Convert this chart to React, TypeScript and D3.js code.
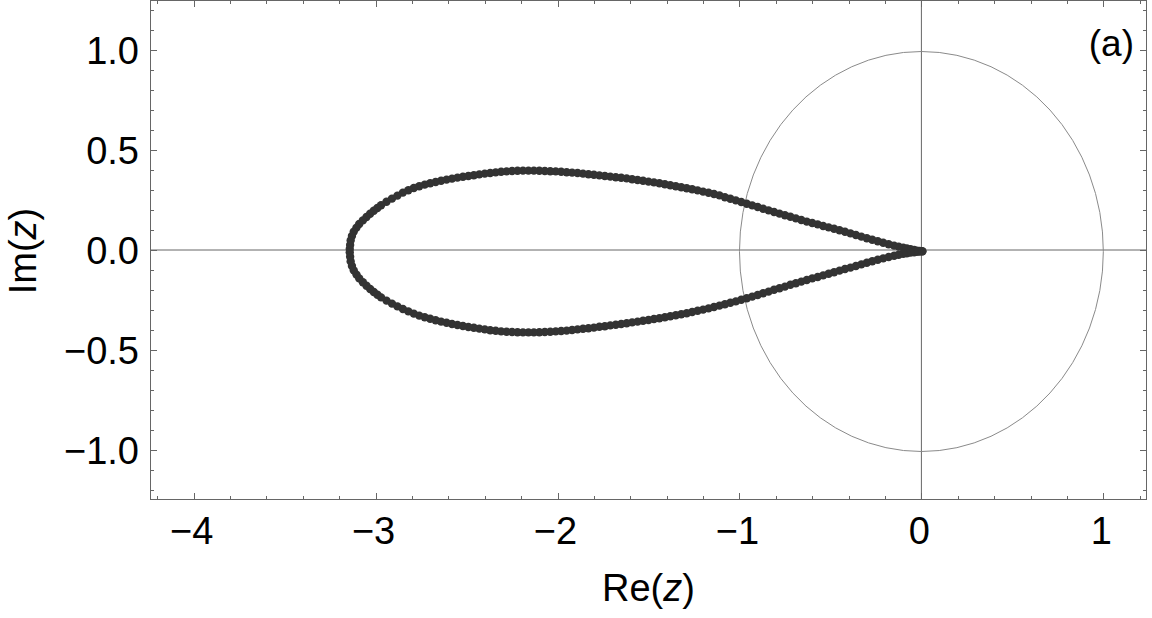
import React, { useEffect } from "react";
import * as d3 from "d3";

const W = 1152;
const H = 618;

const xDomain: [number, number] = [-4.24, 1.24];
const yDomain: [number, number] = [-1.25, 1.25];

const xMajorTicks = [-4, -3, -2, -1, 0, 1];
const xTickLabels = ["\u22124", "\u22123", "\u22122", "\u22121", "0", "1"];
const yMajorTicks = [-1.0, -0.5, 0.0, 0.5, 1.0];
const yTickLabels = ["\u22121.0", "\u22120.5", "0.0", "0.5", "1.0"];

// upper branch of the boundary (Re, Im)
const upperRe = [
  0.005, -0.01, -0.025, -0.04, -0.06, -0.08, -0.1, -0.125, -0.15, -0.18, -0.21, -0.24, -0.27, -0.3, -0.33, -0.36,
  -0.39, -0.42, -0.45, -0.48, -0.51, -0.54, -0.57, -0.6, -0.63, -0.66, -0.69, -0.72, -0.75, -0.78, -0.81, -0.84,
  -0.87, -0.9, -0.93, -0.96, -0.99, -1.02, -1.05, -1.08, -1.11, -1.14, -1.17, -1.2, -1.23, -1.26, -1.29, -1.32,
  -1.35, -1.38, -1.41, -1.44, -1.47, -1.5, -1.53, -1.56, -1.59, -1.62, -1.65, -1.68, -1.71, -1.74, -1.77, -1.8,
  -1.83, -1.86, -1.89, -1.92, -1.95, -1.98, -2.01, -2.04, -2.07, -2.1, -2.13, -2.16, -2.19, -2.22, -2.25, -2.28,
  -2.31, -2.34, -2.37, -2.4, -2.43, -2.46, -2.49, -2.52, -2.55, -2.58, -2.61, -2.64, -2.67, -2.7, -2.73, -2.76,
  -2.79, -2.82, -2.85, -2.88, -2.91, -2.94, -2.97, -2.99, -3.01, -3.03, -3.05, -3.07, -3.09, -3.105, -3.12, -3.13,
  -3.137, -3.14, -3.142,
];
const upperIm = [
  -0.006, -0.005, -0.003, 0.0, 0.004, 0.008, 0.012, 0.017, 0.022, 0.029, 0.036, 0.044, 0.051, 0.059, 0.067, 0.075,
  0.083, 0.091, 0.099, 0.106, 0.113, 0.12, 0.128, 0.135, 0.142, 0.15, 0.158, 0.166, 0.174, 0.182, 0.19, 0.198,
  0.206, 0.215, 0.223, 0.231, 0.24, 0.248, 0.256, 0.264, 0.273, 0.28, 0.286, 0.292, 0.298, 0.304, 0.309, 0.314,
  0.319, 0.324, 0.329, 0.334, 0.338, 0.342, 0.346, 0.35, 0.354, 0.358, 0.361, 0.364, 0.367, 0.37, 0.373, 0.376,
  0.379, 0.382, 0.385, 0.387, 0.389, 0.391, 0.393, 0.394, 0.395, 0.396, 0.397, 0.397, 0.397, 0.396, 0.395, 0.393,
  0.391, 0.388, 0.385, 0.382, 0.378, 0.374, 0.37, 0.366, 0.362, 0.357, 0.352, 0.346, 0.34, 0.334, 0.327, 0.319,
  0.31, 0.299, 0.287, 0.272, 0.257, 0.241, 0.224, 0.21, 0.196, 0.181, 0.165, 0.148, 0.13, 0.112, 0.092, 0.07,
  0.048, 0.025, 0.005,
];

// lower branch of the boundary (Re, Im)
const lowerRe = [
  0.005, -0.01, -0.025, -0.04, -0.06, -0.08, -0.1, -0.125, -0.15, -0.18, -0.21, -0.24, -0.27, -0.3, -0.33, -0.36,
  -0.39, -0.42, -0.45, -0.48, -0.51, -0.54, -0.57, -0.6, -0.63, -0.66, -0.69, -0.72, -0.75, -0.78, -0.81, -0.84,
  -0.87, -0.9, -0.93, -0.96, -0.99, -1.02, -1.05, -1.08, -1.11, -1.14, -1.17, -1.2, -1.23, -1.26, -1.29, -1.32,
  -1.35, -1.38, -1.41, -1.44, -1.47, -1.5, -1.53, -1.56, -1.59, -1.62, -1.65, -1.68, -1.71, -1.74, -1.77, -1.8,
  -1.83, -1.86, -1.89, -1.92, -1.95, -1.98, -2.01, -2.04, -2.07, -2.1, -2.13, -2.16, -2.19, -2.22, -2.25, -2.28,
  -2.31, -2.34, -2.37, -2.4, -2.43, -2.46, -2.49, -2.52, -2.55, -2.58, -2.61, -2.64, -2.67, -2.7, -2.73, -2.76,
  -2.79, -2.82, -2.85, -2.88, -2.91, -2.94, -2.97, -2.99, -3.01, -3.03, -3.05, -3.07, -3.09, -3.105, -3.12, -3.13,
  -3.137, -3.14, -3.142,
];
const lowerIm = [
  -0.007, -0.008, -0.009, -0.011, -0.013, -0.016, -0.019, -0.024, -0.029, -0.035, -0.042, -0.049, -0.056, -0.064,
  -0.072, -0.08, -0.088, -0.095, -0.103, -0.111, -0.119, -0.127, -0.135, -0.142, -0.15, -0.158, -0.166, -0.174,
  -0.183, -0.191, -0.199, -0.208, -0.216, -0.225, -0.233, -0.241, -0.249, -0.257, -0.264, -0.271, -0.278, -0.285,
  -0.292, -0.298, -0.304, -0.31, -0.316, -0.321, -0.326, -0.331, -0.336, -0.341, -0.345, -0.35, -0.354, -0.358,
  -0.362, -0.366, -0.37, -0.374, -0.377, -0.381, -0.384, -0.388, -0.391, -0.394, -0.397, -0.4, -0.403, -0.405,
  -0.407, -0.409, -0.41, -0.411, -0.412, -0.412, -0.412, -0.411, -0.41, -0.409, -0.407, -0.404, -0.401, -0.397,
  -0.393, -0.389, -0.385, -0.38, -0.375, -0.37, -0.364, -0.358, -0.351, -0.344, -0.336, -0.328, -0.318, -0.307,
  -0.295, -0.282, -0.268, -0.253, -0.237, -0.224, -0.21, -0.195, -0.179, -0.161, -0.142, -0.123, -0.102, -0.08,
  -0.057, -0.034, -0.012,
];

const FONT = "'Liberation Sans', Arial, Helvetica, sans-serif";

export default function App() {
  useEffect(() => {
    document.body.style.margin = "0";
  }, []);

  const left = 150;
  const right = 1147;
  const top = 0;
  const bottom = 500;

  const x = d3.scaleLinear().domain(xDomain).range([left, right]);
  const y = d3.scaleLinear().domain(yDomain).range([bottom, top]);

  const xMinor = d3.range(-4.2, 1.21, 0.2).map((v) => Math.round(v * 10) / 10);
  const yMinor = d3.range(-1.2, 1.21, 0.1).map((v) => Math.round(v * 10) / 10);

  const frameColor = "#666";
  const pts = [
    ...upperRe.map((r, i) => [r, upperIm[i]]),
    ...lowerRe.map((r, i) => [r, lowerIm[i]]),
  ];

  return (
    <svg width={W} height={H} style={{ display: "block", background: "#fff" }} fontFamily={FONT}>
      {/* axes through origin */}
      <line x1={left} x2={right} y1={y(0)} y2={y(0)} stroke="#666" strokeWidth={1} />
      <line x1={x(0)} x2={x(0)} y1={top} y2={bottom} stroke="#666" strokeWidth={1} />
      {/* unit circle */}
      <ellipse
        cx={x(0)}
        cy={y(0) + 1.5}
        rx={x(1) - x(0)}
        ry={y(0) - y(1)}
        fill="none"
        stroke="#8a8a8a"
        strokeWidth={1}
      />
      {/* points */}
      <g fill="#333">
        {pts.map((p, i) => (
          <circle key={i} cx={x(p[0])} cy={y(p[1])} r={4.2} />
        ))}
      </g>
      {/* frame */}
      <rect x={left + 0.5} y={top + 0.5} width={right - left - 1} height={bottom - top - 1} fill="none" stroke={frameColor} strokeWidth={1} />
      {/* ticks */}
      <g stroke={frameColor} strokeWidth={1}>
        {xMinor.map((v, i) => {
          const major = xMajorTicks.some((m) => Math.abs(m - v) < 1e-6);
          const len = major ? 7 : 4;
          const px = Math.round(x(v)) + 0.5;
          return (
            <g key={"xt" + i}>
              <line x1={px} x2={px} y1={bottom} y2={bottom - len} />
              <line x1={px} x2={px} y1={top} y2={top + len} />
            </g>
          );
        })}
        {yMinor.map((v, i) => {
          const major = yMajorTicks.some((m) => Math.abs(m - v) < 1e-6);
          const len = major ? 7 : 4;
          const py = Math.round(y(v)) + 0.5;
          return (
            <g key={"yt" + i}>
              <line x1={left} x2={left + len} y1={py} y2={py} />
              <line x1={right} x2={right - len} y1={py} y2={py} />
            </g>
          );
        })}
      </g>
      {/* tick labels */}
      <g fontSize={38} fill="#000">
        {xMajorTicks.map((v, i) => (
          <text key={"xl" + i} x={x(v) - 2} y={544} textAnchor="middle">
            {xTickLabels[i]}
          </text>
        ))}
        {yMajorTicks.map((v, i) => (
          <text key={"yl" + i} x={139} y={y(v) + 13.5} textAnchor="end">
            {yTickLabels[i]}
          </text>
        ))}
      </g>
      {/* axis labels */}
      <text x={(left + right) / 2} y={601} fontSize={38} textAnchor="middle" fill="#000">
        Re(<tspan fontStyle="italic">z</tspan>)
      </text>
      <text
        transform={`translate(36, ${(top + bottom) / 2 + 1}) rotate(-90)`}
        fontSize={38}
        textAnchor="middle"
        fill="#000"
      >
        Im(<tspan fontStyle="italic">z</tspan>)
      </text>
      {/* panel label */}
      <text x={1134} y={56} fontSize={37} textAnchor="end" fill="#000">
        (a)
      </text>
    </svg>
  );
}
